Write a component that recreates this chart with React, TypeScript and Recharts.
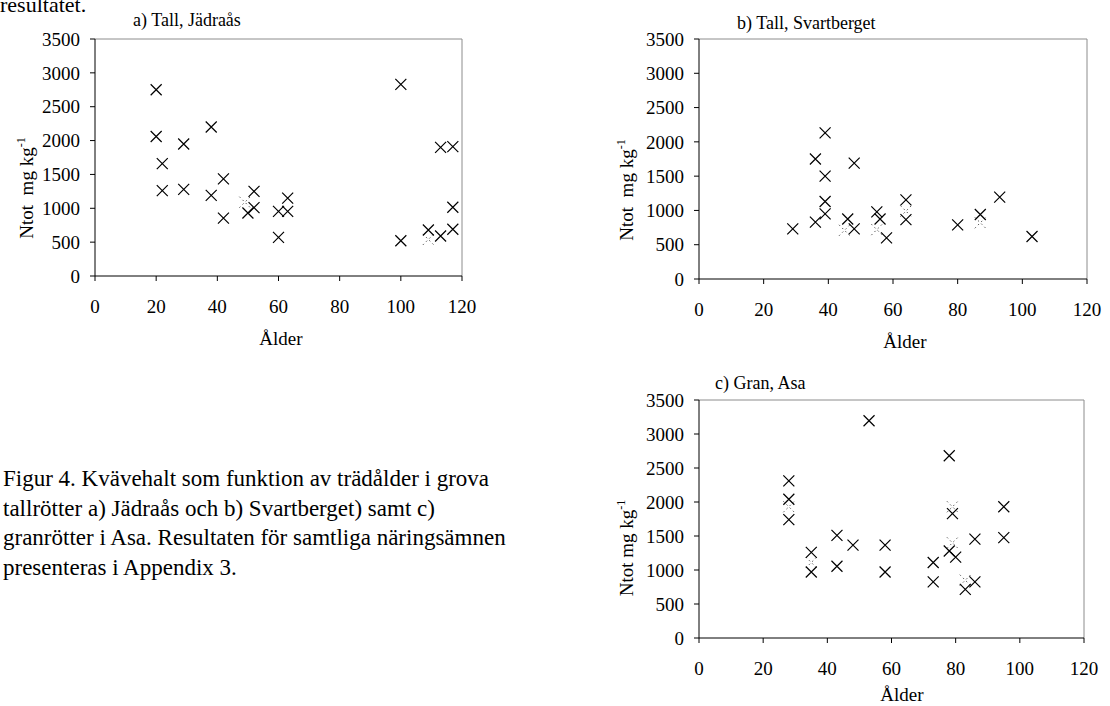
import React from 'react';
import { ScatterChart, Scatter, XAxis, YAxis, ReferenceLine } from 'recharts';

// a) Tall, Jädraås
const jadraasAge = [20, 20, 22, 22, 29, 29, 38, 38, 42, 42, 50, 52, 52, 60, 60, 63, 63, 100, 100, 109, 113, 113, 117, 117, 117];
const jadraasNtot = [2750, 2060, 1660, 1260, 1950, 1280, 2200, 1190, 1435, 855, 930, 1250, 1010, 955, 570, 1150, 955, 2830, 520, 680, 1900, 590, 1910, 1015, 690];
// points that are only half visible in the original (overlapping markers)
const jadraasFaintAge = [49, 109];
const jadraasFaintNtot = [1090, 540];

// b) Tall, Svartberget
const svartAge = [29, 36, 36, 39, 39, 39, 39, 46, 48, 48, 55, 56, 58, 64, 64, 80, 87, 93, 103];
const svartNtot = [730, 1750, 830, 2130, 1500, 1130, 950, 875, 1690, 730, 980, 875, 600, 1155, 865, 790, 940, 1195, 620];
const svartFaintAge = [45, 55, 64, 87];
const svartFaintNtot = [710, 720, 990, 820];

// c) Gran, Asa
const asaAge = [28, 28, 28, 35, 35, 43, 43, 48, 53, 58, 58, 73, 73, 78, 78, 79, 80, 83, 86, 86, 95, 95];
const asaNtot = [2310, 2040, 1740, 1260, 970, 1510, 1055, 1365, 3195, 1365, 970, 1110, 825, 2680, 1280, 1830, 1190, 715, 1455, 825, 1930, 1475];
const asaFaintAge = [28, 35, 79, 79, 83];
const asaFaintNtot = [1930, 1110, 1930, 1400, 850];

const xTicks = [0, 20, 40, 60, 80, 100, 120];
const yTicks = [0, 500, 1000, 1500, 2000, 2500, 3000, 3500];

const captionLines = [
  'Figur 4. Kvävehalt som funktion av trädålder i grova',
  'tallrötter a) Jädraås och b) Svartberget) samt c)',
  'granrötter i Asa. Resultaten för samtliga näringsämnen',
  'presenteras i Appendix 3.',
];

type Row = { age: number; ntot: number };
const toRows = (ages: number[], vals: number[]): Row[] => ages.map((age, i) => ({ age, ntot: vals[i] }));

const SERIF = '"Liberation Serif", "Times New Roman", serif';
const tickStyle = { fontFamily: SERIF, fontSize: 19, fill: '#000' };

const Cross = (props: any) => {
  const { cx, cy } = props;
  const r = 5.5;
  return (
    <path
      d={`M${cx - r},${cy - r}L${cx + r},${cy + r}M${cx - r},${cy + r}L${cx + r},${cy - r}`}
      stroke="#000"
      strokeWidth={1.2}
      fill="none"
    />
  );
};

const FaintCross = (props: any) => {
  const { cx, cy } = props;
  const r = 5.5;
  return (
    <path
      d={`M${cx - r},${cy - r}L${cx + r},${cy + r}M${cx - r},${cy + r}L${cx + r},${cy - r}`}
      stroke="#555"
      strokeWidth={1}
      strokeDasharray="1.5 3"
      fill="none"
    />
  );
};

type PanelProps = {
  left: number;
  top: number;
  width: number;
  height: number;
  margin: { top: number; right: number; bottom: number; left: number };
  rows: Row[];
  faint: Row[];
};

function Panel({ left, top, width, height, margin, rows, faint }: PanelProps) {
  return (
    <div style={{ position: 'absolute', left, top, width, height }}>
      <ScatterChart width={width} height={height} margin={margin}>
        <XAxis
          type="number"
          dataKey="age"
          domain={[0, 120]}
          ticks={xTicks}
          interval={0}
          tickSize={5}
          tickMargin={19}
          height={50}
          axisLine={{ stroke: '#000' }}
          tickLine={{ stroke: '#000' }}
          tick={tickStyle}
        />
        <YAxis
          type="number"
          dataKey="ntot"
          domain={[0, 3500]}
          ticks={yTicks}
          interval={0}
          tickSize={5}
          tickMargin={10}
          width={60}
          axisLine={{ stroke: '#000' }}
          tickLine={{ stroke: '#000' }}
          tick={tickStyle}
        />
        <ReferenceLine y={3500} stroke="#8c8c8c" strokeWidth={1} />
        <ReferenceLine x={120} stroke="#8c8c8c" strokeWidth={1} />
        <Scatter data={faint} shape={FaintCross} isAnimationActive={false} />
        <Scatter data={rows} shape={Cross} isAnimationActive={false} />
      </ScatterChart>
    </div>
  );
}

function YLabel({ x, y, gap }: { x: number; y: number; gap: string }) {
  return (
    <text
      x={x}
      y={y}
      transform={`rotate(-90 ${x} ${y})`}
      textAnchor="middle"
      fontFamily={SERIF}
      fontSize={19}
      fill="#000"
      style={{ whiteSpace: 'pre' }}
    >
      {`Ntot${gap}mg kg`}
      <tspan dy={-8} fontSize={12}>-1</tspan>
    </text>
  );
}

export default function App() {
  const textProps = { fontFamily: SERIF, fill: '#000' };
  return (
    <div style={{ position: 'absolute', left: 0, top: 0, width: 1110, height: 706, background: '#fff', overflow: 'hidden' }}>
      <Panel
        left={0}
        top={0}
        width={560}
        height={360}
        margin={{ top: 39, right: 98, bottom: 34, left: 35 }}
        rows={toRows(jadraasAge, jadraasNtot)}
        faint={toRows(jadraasFaintAge, jadraasFaintNtot)}
      />
      <Panel
        left={580}
        top={0}
        width={530}
        height={360}
        margin={{ top: 39, right: 23, bottom: 31, left: 59 }}
        rows={toRows(svartAge, svartNtot)}
        faint={toRows(svartFaintAge, svartFaintNtot)}
      />
      <Panel
        left={580}
        top={360}
        width={530}
        height={346}
        margin={{ top: 40, right: 26, bottom: 18, left: 59 }}
        rows={toRows(asaAge, asaNtot)}
        faint={toRows(asaFaintAge, asaFaintNtot)}
      />
      <svg width={1110} height={706} style={{ position: 'absolute', left: 0, top: 0, pointerEvents: 'none' }}>
        <text x={0} y={12} fontSize={22} {...textProps}>resultatet.</text>

        <text x={133} y={26} fontSize={18} {...textProps}>a) Tall, Jädraås</text>
        <text x={737} y={29} fontSize={18} {...textProps}>b) Tall, Svartberget</text>
        <text x={715} y={389} fontSize={18} {...textProps}>c) Gran, Asa</text>

        <text x={281} y={345} fontSize={19} textAnchor="middle" {...textProps}>Ålder</text>
        <text x={905} y={348} fontSize={19} textAnchor="middle" {...textProps}>Ålder</text>
        <text x={902} y={701} fontSize={19} textAnchor="middle" {...textProps}>Ålder</text>

        <YLabel x={33} y={188} gap="  " />
        <YLabel x={633} y={190} gap="  " />
        <YLabel x={633} y={548} gap=" " />

        {captionLines.map((line, i) => (
          <text key={i} x={3} y={486 + i * 29.5} fontSize={23} {...textProps}>{line}</text>
        ))}
      </svg>
    </div>
  );
}
